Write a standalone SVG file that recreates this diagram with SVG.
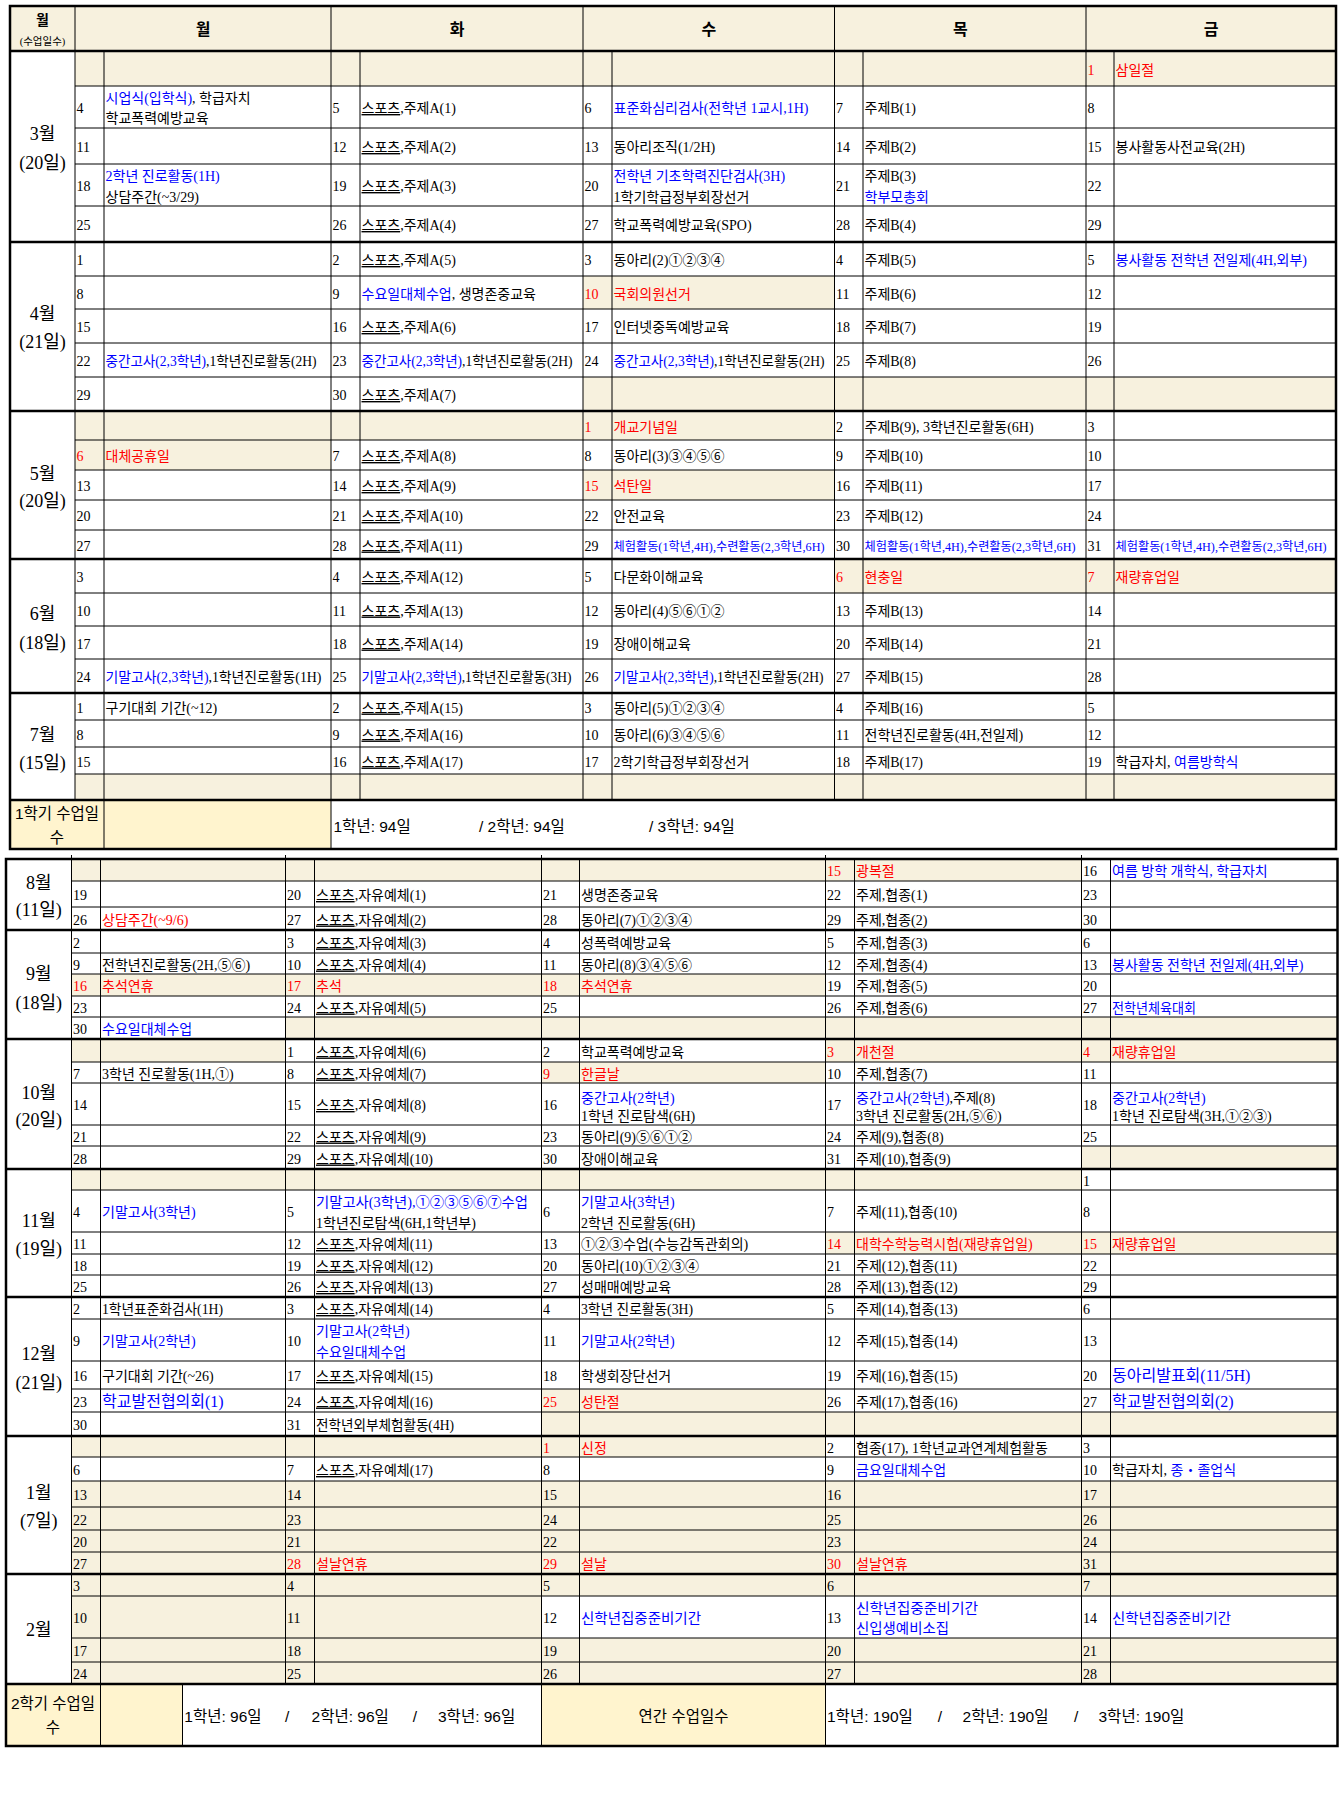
<svg xmlns="http://www.w3.org/2000/svg" width="1344" height="1798" viewBox="0 0 1344 1798">
<style>
text{font-family:'Liberation Serif','Noto Sans CJK KR',serif;font-size:14px;fill:#000}
.r{fill:#f00}
.b{fill:#00f}
.u{text-decoration:underline}
.m{font-size:18px;text-anchor:middle}
.h{font-family:'Liberation Sans','Noto Sans CJK KR',sans-serif;font-size:16px;font-weight:bold;text-anchor:middle}
.s{font-family:'Liberation Sans','Noto Sans CJK KR',sans-serif;font-size:15.5px}
.c{text-anchor:middle}
.g16{font-size:16px}
.sm{font-size:12px}
.bg{fill:#f7f1de}
.y{fill:#fff4ce}
.ln{stroke:#000;stroke-width:1;fill:none}
.tk{stroke:#000;stroke-width:2.5;fill:none}
</style>
<rect width="1344" height="1798" fill="#fff"/>

<!-- ============ TOP TABLE (1st semester) ============ -->
<g id="top-fills">
<rect class="bg" x="10" y="6" width="1326" height="45"/>
<rect class="bg" x="75" y="51" width="1261" height="35"/>
<rect class="bg" x="583" y="276" width="251.5" height="33"/>
<rect class="bg" x="583" y="377" width="753" height="34"/>
<rect class="bg" x="75" y="411" width="759.5" height="29"/>
<rect class="bg" x="75" y="440" width="256" height="30"/>
<rect class="bg" x="583" y="470" width="251.5" height="30"/>
<rect class="bg" x="834.5" y="559" width="501.5" height="34"/>
<rect class="bg" x="75" y="774" width="1261" height="26"/>
<rect class="y" x="10" y="800" width="321" height="49"/>
</g>
<g id="top-grid">
<path class="ln" d="M75 86H1336M75 128H1336M75 164H1336M75 206H1336M75 276H1336M75 309H1336M75 343H1336M75 377H1336M75 440H1336M75 470H1336M75 500H1336M75 530H1336M75 593H1336M75 626H1336M75 659H1336M75 720H1336M75 747H1336M75 774H1336"/>
<path class="ln" d="M75 6V800M104 51V849M331 6V849M360 51V800M583 6V800M612 51V800M834.5 6V800M863 51V800M1086 6V800M1114 51V800"/>
<path class="tk" d="M10 51H1336M10 242H1336M10 411H1336M10 559H1336M10 693H1336M10 800H1336"/>
<rect class="tk" x="10" y="6" width="1326" height="843"/>
</g>
<g id="top-header">
<text x="42.5" y="25" style="font-size:14px;font-weight:bold;text-anchor:middle">월</text>
<text x="42.5" y="44.5" style="font-size:10.5px;text-anchor:middle">(수업일수)</text>
<text class="h" x="203" y="34.5">월</text>
<text class="h" x="457" y="34.5">화</text>
<text class="h" x="708.75" y="34.5">수</text>
<text class="h" x="960.25" y="34.5">목</text>
<text class="h" x="1211" y="34.5">금</text>
</g>

<g id="month-03">
<text class="m" x="42.5" y="140">3월</text>
<text class="m" x="42.5" y="168.5">(20일)</text>
<text class="r" x="1087.5" y="74.5">1</text><text class="r" x="1115.5" y="74.5">삼일절</text>
<text x="76.5" y="113">4</text>
<text x="105.5" y="102.5"><tspan class="b">시업식(입학식)</tspan>, 학급자치</text>
<text x="105.5" y="123">학교폭력예방교육</text>
<text x="332.5" y="113">5</text><text x="361.5" y="113"><tspan class="u">스포츠</tspan>,주제A(1)</text>
<text x="584.5" y="113">6</text><text class="b" x="613.5" y="113">표준화심리검사(전학년 1교시,1H)</text>
<text x="836" y="113">7</text><text x="864.5" y="113">주제B(1)</text>
<text x="1087.5" y="113">8</text>
<text x="76.5" y="152">11</text>
<text x="332.5" y="152">12</text><text x="361.5" y="152"><tspan class="u">스포츠</tspan>,주제A(2)</text>
<text x="584.5" y="152">13</text><text x="613.5" y="152">동아리조직(1/2H)</text>
<text x="836" y="152">14</text><text x="864.5" y="152">주제B(2)</text>
<text x="1087.5" y="152">15</text><text x="1115.5" y="152">봉사활동사전교육(2H)</text>
<text x="76.5" y="191">18</text>
<text class="b" x="105.5" y="180.5">2학년 진로활동(1H)</text>
<text x="105.5" y="201.5">상담주간(~3/29)</text>
<text x="332.5" y="191">19</text><text x="361.5" y="191"><tspan class="u">스포츠</tspan>,주제A(3)</text>
<text x="584.5" y="191">20</text>
<text class="b" x="613.5" y="180.5">전학년 기초학력진단검사(3H)</text>
<text x="613.5" y="201.5">1학기학급정부회장선거</text>
<text x="836" y="191">21</text>
<text x="864.5" y="180.5">주제B(3)</text>
<text class="b" x="864.5" y="201.5">학부모총회</text>
<text x="1087.5" y="191">22</text>
<text x="76.5" y="230">25</text>
<text x="332.5" y="230">26</text><text x="361.5" y="230"><tspan class="u">스포츠</tspan>,주제A(4)</text>
<text x="584.5" y="230">27</text><text x="613.5" y="230">학교폭력예방교육(SPO)</text>
<text x="836" y="230">28</text><text x="864.5" y="230">주제B(4)</text>
<text x="1087.5" y="230">29</text>
</g>

<g id="month-04">
<text class="m" x="42.5" y="320">4월</text>
<text class="m" x="42.5" y="348">(21일)</text>
<text x="76.5" y="265">1</text>
<text x="332.5" y="265">2</text><text x="361.5" y="265"><tspan class="u">스포츠</tspan>,주제A(5)</text>
<text x="584.5" y="265">3</text><text x="613.5" y="265">동아리(2)①②③④</text>
<text x="836" y="265">4</text><text x="864.5" y="265">주제B(5)</text>
<text x="1087.5" y="265">5</text><text class="b" x="1115.5" y="265">봉사활동 전학년 전일제(4H,외부)</text>
<text x="76.5" y="298.5">8</text>
<text x="332.5" y="298.5">9</text><text x="361.5" y="298.5"><tspan class="b">수요일대체수업</tspan>, 생명존중교육</text>
<text class="r" x="584.5" y="298.5">10</text><text class="r" x="613.5" y="298.5">국회의원선거</text>
<text x="836" y="298.5">11</text><text x="864.5" y="298.5">주제B(6)</text>
<text x="1087.5" y="298.5">12</text>
<text x="76.5" y="332">15</text>
<text x="332.5" y="332">16</text><text x="361.5" y="332"><tspan class="u">스포츠</tspan>,주제A(6)</text>
<text x="584.5" y="332">17</text><text x="613.5" y="332">인터넷중독예방교육</text>
<text x="836" y="332">18</text><text x="864.5" y="332">주제B(7)</text>
<text x="1087.5" y="332">19</text>
<text x="76.5" y="366">22</text><text x="105.5" y="366" textLength="211" lengthAdjust="spacingAndGlyphs"><tspan class="b">중간고사(2,3학년)</tspan>,1학년진로활동(2H)</text>
<text x="332.5" y="366">23</text><text x="361.5" y="366" textLength="211" lengthAdjust="spacingAndGlyphs"><tspan class="b">중간고사(2,3학년)</tspan>,1학년진로활동(2H)</text>
<text x="584.5" y="366">24</text><text x="613.5" y="366" textLength="211" lengthAdjust="spacingAndGlyphs"><tspan class="b">중간고사(2,3학년)</tspan>,1학년진로활동(2H)</text>
<text x="836" y="366">25</text><text x="864.5" y="366">주제B(8)</text>
<text x="1087.5" y="366">26</text>
<text x="76.5" y="400">29</text>
<text x="332.5" y="400">30</text><text x="361.5" y="400"><tspan class="u">스포츠</tspan>,주제A(7)</text>
</g>

<g id="month-05">
<text class="m" x="42.5" y="479.5">5월</text>
<text class="m" x="42.5" y="507">(20일)</text>
<text class="r" x="584.5" y="431.5">1</text><text class="r" x="613.5" y="431.5">개교기념일</text>
<text x="836" y="431.5">2</text><text x="864.5" y="431.5">주제B(9), 3학년진로활동(6H)</text>
<text x="1087.5" y="431.5">3</text>
<text class="r" x="76.5" y="461">6</text><text class="r" x="105.5" y="461">대체공휴일</text>
<text x="332.5" y="461">7</text><text x="361.5" y="461"><tspan class="u">스포츠</tspan>,주제A(8)</text>
<text x="584.5" y="461">8</text><text x="613.5" y="461">동아리(3)③④⑤⑥</text>
<text x="836" y="461">9</text><text x="864.5" y="461">주제B(10)</text>
<text x="1087.5" y="461">10</text>
<text x="76.5" y="491">13</text>
<text x="332.5" y="491">14</text><text x="361.5" y="491"><tspan class="u">스포츠</tspan>,주제A(9)</text>
<text class="r" x="584.5" y="491">15</text><text class="r" x="613.5" y="491">석탄일</text>
<text x="836" y="491">16</text><text x="864.5" y="491">주제B(11)</text>
<text x="1087.5" y="491">17</text>
<text x="76.5" y="521">20</text>
<text x="332.5" y="521">21</text><text x="361.5" y="521"><tspan class="u">스포츠</tspan>,주제A(10)</text>
<text x="584.5" y="521">22</text><text x="613.5" y="521">안전교육</text>
<text x="836" y="521">23</text><text x="864.5" y="521">주제B(12)</text>
<text x="1087.5" y="521">24</text>
<text x="76.5" y="550.5">27</text>
<text x="332.5" y="550.5">28</text><text x="361.5" y="550.5"><tspan class="u">스포츠</tspan>,주제A(11)</text>
<text x="584.5" y="550.5">29</text><text class="b sm" x="613.5" y="550.5" textLength="211" lengthAdjust="spacingAndGlyphs">체험활동(1학년,4H),수련활동(2,3학년,6H)</text>
<text x="836" y="550.5">30</text><text class="b sm" x="864.5" y="550.5" textLength="211" lengthAdjust="spacingAndGlyphs">체험활동(1학년,4H),수련활동(2,3학년,6H)</text>
<text x="1087.5" y="550.5">31</text><text class="b sm" x="1115.5" y="550.5" textLength="211" lengthAdjust="spacingAndGlyphs">체험활동(1학년,4H),수련활동(2,3학년,6H)</text>
</g>

<g id="month-06">
<text class="m" x="42.5" y="620">6월</text>
<text class="m" x="42.5" y="648.5">(18일)</text>
<text x="76.5" y="582">3</text>
<text x="332.5" y="582">4</text><text x="361.5" y="582"><tspan class="u">스포츠</tspan>,주제A(12)</text>
<text x="584.5" y="582">5</text><text x="613.5" y="582">다문화이해교육</text>
<text class="r" x="836" y="582">6</text><text class="r" x="864.5" y="582">현충일</text>
<text class="r" x="1087.5" y="582">7</text><text class="r" x="1115.5" y="582">재량휴업일</text>
<text x="76.5" y="615.5">10</text>
<text x="332.5" y="615.5">11</text><text x="361.5" y="615.5"><tspan class="u">스포츠</tspan>,주제A(13)</text>
<text x="584.5" y="615.5">12</text><text x="613.5" y="615.5">동아리(4)⑤⑥①②</text>
<text x="836" y="615.5">13</text><text x="864.5" y="615.5">주제B(13)</text>
<text x="1087.5" y="615.5">14</text>
<text x="76.5" y="648.5">17</text>
<text x="332.5" y="648.5">18</text><text x="361.5" y="648.5"><tspan class="u">스포츠</tspan>,주제A(14)</text>
<text x="584.5" y="648.5">19</text><text x="613.5" y="648.5">장애이해교육</text>
<text x="836" y="648.5">20</text><text x="864.5" y="648.5">주제B(14)</text>
<text x="1087.5" y="648.5">21</text>
<text x="76.5" y="682">24</text><text x="105.5" y="682" textLength="216" lengthAdjust="spacingAndGlyphs"><tspan class="b">기말고사(2,3학년)</tspan>,1학년진로활동(1H)</text>
<text x="332.5" y="682">25</text><text x="361.5" y="682" textLength="210" lengthAdjust="spacingAndGlyphs"><tspan class="b">기말고사(2,3학년)</tspan>,1학년진로활동(3H)</text>
<text x="584.5" y="682">26</text><text x="613.5" y="682" textLength="210" lengthAdjust="spacingAndGlyphs"><tspan class="b">기말고사(2,3학년)</tspan>,1학년진로활동(2H)</text>
<text x="836" y="682">27</text><text x="864.5" y="682">주제B(15)</text>
<text x="1087.5" y="682">28</text>
</g>

<g id="month-07">
<text class="m" x="42.5" y="741">7월</text>
<text class="m" x="42.5" y="768.5">(15일)</text>
<text x="76.5" y="712.5">1</text><text x="105.5" y="712.5">구기대회 기간(~12)</text>
<text x="332.5" y="712.5">2</text><text x="361.5" y="712.5"><tspan class="u">스포츠</tspan>,주제A(15)</text>
<text x="584.5" y="712.5">3</text><text x="613.5" y="712.5">동아리(5)①②③④</text>
<text x="836" y="712.5">4</text><text x="864.5" y="712.5">주제B(16)</text>
<text x="1087.5" y="712.5">5</text>
<text x="76.5" y="739.5">8</text>
<text x="332.5" y="739.5">9</text><text x="361.5" y="739.5"><tspan class="u">스포츠</tspan>,주제A(16)</text>
<text x="584.5" y="739.5">10</text><text x="613.5" y="739.5">동아리(6)③④⑤⑥</text>
<text x="836" y="739.5">11</text><text x="864.5" y="739.5">전학년진로활동(4H,전일제)</text>
<text x="1087.5" y="739.5">12</text>
<text x="76.5" y="766.5">15</text>
<text x="332.5" y="766.5">16</text><text x="361.5" y="766.5"><tspan class="u">스포츠</tspan>,주제A(17)</text>
<text x="584.5" y="766.5">17</text><text x="613.5" y="766.5">2학기학급정부회장선거</text>
<text x="836" y="766.5">18</text><text x="864.5" y="766.5">주제B(17)</text>
<text x="1087.5" y="766.5">19</text><text x="1115.5" y="766.5">학급자치, <tspan class="b">여름방학식</tspan></text>
</g>

<g id="summary-1">
<text class="s c" x="57" y="819">1학기 수업일</text>
<text class="s c" x="57" y="842.5">수</text>
<text class="s" x="333.5" y="832">1학년: 94일</text>
<text class="s" x="479" y="832">/ 2학년: 94일</text>
<text class="s" x="649" y="832">/ 3학년: 94일</text>
</g>

<!-- ============ BOTTOM TABLE (2nd semester) ============ -->
<g id="bottom-fills">
<rect class="bg" x="71.5" y="859" width="1010" height="22"/>
<rect class="bg" x="71.5" y="974" width="754" height="22"/>
<rect class="bg" x="285.5" y="1017" width="1052" height="22"/>
<rect class="bg" x="71.5" y="1039" width="214" height="23"/>
<rect class="bg" x="825.5" y="1039" width="512" height="23"/>
<rect class="bg" x="541.5" y="1062" width="284" height="21"/>
<rect class="bg" x="1081.5" y="1146" width="256" height="23"/>
<rect class="bg" x="71.5" y="1169" width="1010" height="21"/>
<rect class="bg" x="825.5" y="1232" width="512" height="22"/>
<rect class="bg" x="541.5" y="1389" width="284" height="23"/>
<rect class="bg" x="541.5" y="1412" width="796" height="24"/>
<rect class="bg" x="71.5" y="1436" width="754" height="21"/>
<rect class="bg" x="71.5" y="1481" width="1266" height="115"/>
<rect class="bg" x="71.5" y="1596" width="470" height="42"/>
<rect class="bg" x="71.5" y="1638" width="1266" height="46"/>
<rect class="y" x="6" y="1684" width="176.5" height="62"/>
<rect class="y" x="541.5" y="1684" width="284" height="62"/>
</g>
<g id="bottom-grid">
<path class="ln" d="M71.5 881H1337.5M71.5 907H1337.5M71.5 953H1337.5M71.5 974H1337.5M71.5 996H1337.5M71.5 1017H1337.5M71.5 1062H1337.5M71.5 1083H1337.5M71.5 1125H1337.5M71.5 1146H1337.5M71.5 1190H1337.5M71.5 1232H1337.5M71.5 1254H1337.5M71.5 1275H1337.5M71.5 1319H1337.5M71.5 1361H1337.5M71.5 1389H1337.5M71.5 1412H1337.5M71.5 1457H1337.5M71.5 1481H1337.5M71.5 1507H1337.5M71.5 1530H1337.5M71.5 1552H1337.5M71.5 1596H1337.5M71.5 1638H1337.5M71.5 1662H1337.5"/>
<path class="ln" d="M71.5 855V1684M100.5 859V1746M182.5 1684V1746M285.5 855V1684M314.5 859V1684M541.5 855V1746M579.5 859V1684M825.5 855V1746M854.5 859V1684M1081.5 855V1684M1110.5 859V1684"/>
<path class="tk" d="M6 930H1337.5M6 1039H1337.5M6 1169H1337.5M6 1297H1337.5M6 1436H1337.5M6 1574H1337.5M6 1684H1337.5"/>
<rect class="tk" x="6" y="859" width="1331.5" height="887"/>
</g>

<g id="month-08">
<text class="m" x="38.8" y="888.5">8월</text>
<text class="m" x="38.8" y="916">(11일)</text>
<text class="r" x="827" y="876">15</text><text class="r" x="856" y="876">광복절</text>
<text x="1083" y="876">16</text><text class="b" x="1112" y="876">여름 방학 개학식, 학급자치</text>
<text x="73" y="900">19</text>
<text x="287" y="900">20</text><text x="316" y="900"><tspan class="u">스포츠</tspan>,자유예체(1)</text>
<text x="543" y="900">21</text><text x="581" y="900">생명존중교육</text>
<text x="827" y="900">22</text><text x="856" y="900">주제,협종(1)</text>
<text x="1083" y="900">23</text>
<text x="73" y="924.5">26</text><text class="r" x="102" y="924.5">상담주간(~9/6)</text>
<text x="287" y="924.5">27</text><text x="316" y="924.5"><tspan class="u">스포츠</tspan>,자유예체(2)</text>
<text x="543" y="924.5">28</text><text x="581" y="924.5">동아리(7)①②③④</text>
<text x="827" y="924.5">29</text><text x="856" y="924.5">주제,협종(2)</text>
<text x="1083" y="924.5">30</text>
</g>

<g id="month-09">
<text class="m" x="38.8" y="979.5">9월</text>
<text class="m" x="38.8" y="1008.5">(18일)</text>
<text x="73" y="947.5">2</text>
<text x="287" y="947.5">3</text><text x="316" y="947.5"><tspan class="u">스포츠</tspan>,자유예체(3)</text>
<text x="543" y="947.5">4</text><text x="581" y="947.5">성폭력예방교육</text>
<text x="827" y="947.5">5</text><text x="856" y="947.5">주제,협종(3)</text>
<text x="1083" y="947.5">6</text>
<text x="73" y="969.5">9</text><text x="102" y="969.5">전학년진로활동(2H,⑤⑥)</text>
<text x="287" y="969.5">10</text><text x="316" y="969.5"><tspan class="u">스포츠</tspan>,자유예체(4)</text>
<text x="543" y="969.5">11</text><text x="581" y="969.5">동아리(8)③④⑤⑥</text>
<text x="827" y="969.5">12</text><text x="856" y="969.5">주제,협종(4)</text>
<text x="1083" y="969.5">13</text><text class="b" x="1112" y="969.5">봉사활동 전학년 전일제(4H,외부)</text>
<text class="r" x="73" y="991">16</text><text class="r" x="102" y="991">추석연휴</text>
<text class="r" x="287" y="991">17</text><text class="r" x="316" y="991">추석</text>
<text class="r" x="543" y="991">18</text><text class="r" x="581" y="991">추석연휴</text>
<text x="827" y="991">19</text><text x="856" y="991">주제,협종(5)</text>
<text x="1083" y="991">20</text>
<text x="73" y="1012.5">23</text>
<text x="287" y="1012.5">24</text><text x="316" y="1012.5"><tspan class="u">스포츠</tspan>,자유예체(5)</text>
<text x="543" y="1012.5">25</text>
<text x="827" y="1012.5">26</text><text x="856" y="1012.5">주제,협종(6)</text>
<text x="1083" y="1012.5">27</text><text class="b" x="1112" y="1012.5" textLength="84" lengthAdjust="spacingAndGlyphs">전학년체육대회</text>
<text x="73" y="1034">30</text><text class="b" x="102" y="1034">수요일대체수업</text>
</g>

<g id="month-10">
<text class="m" x="38.8" y="1098.5">10월</text>
<text class="m" x="38.8" y="1126">(20일)</text>
<text x="287" y="1056.5">1</text><text x="316" y="1056.5"><tspan class="u">스포츠</tspan>,자유예체(6)</text>
<text x="543" y="1056.5">2</text><text x="581" y="1056.5">학교폭력예방교육</text>
<text class="r" x="827" y="1056.5">3</text><text class="r" x="856" y="1056.5">개천절</text>
<text class="r" x="1083" y="1056.5">4</text><text class="r" x="1112" y="1056.5">재량휴업일</text>
<text x="73" y="1078.5">7</text><text x="102" y="1078.5">3학년 진로활동(1H,①)</text>
<text x="287" y="1078.5">8</text><text x="316" y="1078.5"><tspan class="u">스포츠</tspan>,자유예체(7)</text>
<text class="r" x="543" y="1078.5">9</text><text class="r" x="581" y="1078.5">한글날</text>
<text x="827" y="1078.5">10</text><text x="856" y="1078.5">주제,협종(7)</text>
<text x="1083" y="1078.5">11</text>
<text x="73" y="1110">14</text>
<text x="287" y="1110">15</text><text x="316" y="1110"><tspan class="u">스포츠</tspan>,자유예체(8)</text>
<text x="543" y="1110">16</text>
<text class="b" x="581" y="1103">중간고사(2학년)</text>
<text x="581" y="1120.5">1학년 진로탐색(6H)</text>
<text x="827" y="1110">17</text>
<text x="856" y="1103"><tspan class="b">중간고사(2학년)</tspan>,주제(8)</text>
<text x="856" y="1120.5">3학년 진로활동(2H,⑤⑥)</text>
<text x="1083" y="1110">18</text>
<text class="b" x="1112" y="1103">중간고사(2학년)</text>
<text x="1112" y="1120.5">1학년 진로탐색(3H,①②③)</text>
<text x="73" y="1141.5">21</text>
<text x="287" y="1141.5">22</text><text x="316" y="1141.5"><tspan class="u">스포츠</tspan>,자유예체(9)</text>
<text x="543" y="1141.5">23</text><text x="581" y="1141.5">동아리(9)⑤⑥①②</text>
<text x="827" y="1141.5">24</text><text x="856" y="1141.5">주제(9),협종(8)</text>
<text x="1083" y="1141.5">25</text>
<text x="73" y="1163.5">28</text>
<text x="287" y="1163.5">29</text><text x="316" y="1163.5"><tspan class="u">스포츠</tspan>,자유예체(10)</text>
<text x="543" y="1163.5">30</text><text x="581" y="1163.5">장애이해교육</text>
<text x="827" y="1163.5">31</text><text x="856" y="1163.5">주제(10),협종(9)</text>
</g>

<g id="month-11">
<text class="m" x="38.8" y="1227">11월</text>
<text class="m" x="38.8" y="1255">(19일)</text>
<text x="1083" y="1185.5">1</text>
<text x="73" y="1217">4</text><text class="b" x="102" y="1217">기말고사(3학년)</text>
<text x="287" y="1217">5</text>
<text class="b" x="316" y="1206.5" textLength="212" lengthAdjust="spacingAndGlyphs">기말고사(3학년),①②③⑤⑥⑦수업</text>
<text x="316" y="1228">1학년진로탐색(6H,1학년부)</text>
<text x="543" y="1217">6</text>
<text class="b" x="581" y="1206.5">기말고사(3학년)</text>
<text x="581" y="1228">2학년 진로활동(6H)</text>
<text x="827" y="1217">7</text><text x="856" y="1217">주제(11),협종(10)</text>
<text x="1083" y="1217">8</text>
<text x="73" y="1249">11</text>
<text x="287" y="1249">12</text><text x="316" y="1249"><tspan class="u">스포츠</tspan>,자유예체(11)</text>
<text x="543" y="1249">13</text><text x="581" y="1249">①②③수업(수능감독관회의)</text>
<text class="r" x="827" y="1249">14</text><text class="r" x="856" y="1249">대학수학능력시험(재량휴업일)</text>
<text class="r" x="1083" y="1249">15</text><text class="r" x="1112" y="1249">재량휴업일</text>
<text x="73" y="1270.5">18</text>
<text x="287" y="1270.5">19</text><text x="316" y="1270.5"><tspan class="u">스포츠</tspan>,자유예체(12)</text>
<text x="543" y="1270.5">20</text><text x="581" y="1270.5">동아리(10)①②③④</text>
<text x="827" y="1270.5">21</text><text x="856" y="1270.5">주제(12),협종(11)</text>
<text x="1083" y="1270.5">22</text>
<text x="73" y="1292">25</text>
<text x="287" y="1292">26</text><text x="316" y="1292"><tspan class="u">스포츠</tspan>,자유예체(13)</text>
<text x="543" y="1292">27</text><text x="581" y="1292">성매매예방교육</text>
<text x="827" y="1292">28</text><text x="856" y="1292">주제(13),협종(12)</text>
<text x="1083" y="1292">29</text>
</g>

<g id="month-12">
<text class="m" x="38.8" y="1360">12월</text>
<text class="m" x="38.8" y="1388.5">(21일)</text>
<text x="73" y="1314">2</text><text x="102" y="1314" textLength="121" lengthAdjust="spacingAndGlyphs">1학년표준화검사(1H)</text>
<text x="287" y="1314">3</text><text x="316" y="1314"><tspan class="u">스포츠</tspan>,자유예체(14)</text>
<text x="543" y="1314">4</text><text x="581" y="1314" textLength="112" lengthAdjust="spacingAndGlyphs">3학년 진로활동(3H)</text>
<text x="827" y="1314">5</text><text x="856" y="1314">주제(14),협종(13)</text>
<text x="1083" y="1314">6</text>
<text x="73" y="1346">9</text><text class="b" x="102" y="1346">기말고사(2학년)</text>
<text x="287" y="1346">10</text>
<text class="b" x="316" y="1336">기말고사(2학년)</text>
<text class="b" x="316" y="1357">수요일대체수업</text>
<text x="543" y="1346">11</text><text class="b" x="581" y="1346">기말고사(2학년)</text>
<text x="827" y="1346">12</text><text x="856" y="1346">주제(15),협종(14)</text>
<text x="1083" y="1346">13</text>
<text x="73" y="1381">16</text><text x="102" y="1381">구기대회 기간(~26)</text>
<text x="287" y="1381">17</text><text x="316" y="1381"><tspan class="u">스포츠</tspan>,자유예체(15)</text>
<text x="543" y="1381">18</text><text x="581" y="1381">학생회장단선거</text>
<text x="827" y="1381">19</text><text x="856" y="1381">주제(16),협종(15)</text>
<text x="1083" y="1381">20</text><text class="b g16" x="1112" y="1381">동아리발표회(11/5H)</text>
<text x="73" y="1406.5">23</text><text class="b g16" x="102" y="1406.5">학교발전협의회(1)</text>
<text x="287" y="1406.5">24</text><text x="316" y="1406.5"><tspan class="u">스포츠</tspan>,자유예체(16)</text>
<text class="r" x="543" y="1406.5">25</text><text class="r" x="581" y="1406.5">성탄절</text>
<text x="827" y="1406.5">26</text><text x="856" y="1406.5">주제(17),협종(16)</text>
<text x="1083" y="1406.5">27</text><text class="b g16" x="1112" y="1406.5">학교발전협의회(2)</text>
<text x="73" y="1430">30</text>
<text x="287" y="1430">31</text><text x="316" y="1430" textLength="138" lengthAdjust="spacingAndGlyphs">전학년외부체험활동(4H)</text>
</g>

<g id="month-01">
<text class="m" x="38.8" y="1498.5">1월</text>
<text class="m" x="38.8" y="1527">(7일)</text>
<text class="r" x="543" y="1452.5">1</text><text class="r" x="581" y="1452.5">신정</text>
<text x="827" y="1452.5">2</text><text x="856" y="1452.5">협종(17), 1학년교과연계체험활동</text>
<text x="1083" y="1452.5">3</text>
<text x="73" y="1475">6</text>
<text x="287" y="1475">7</text><text x="316" y="1475"><tspan class="u">스포츠</tspan>,자유예체(17)</text>
<text x="543" y="1475">8</text>
<text x="827" y="1475">9</text><text class="b" x="856" y="1475">금요일대체수업</text>
<text x="1083" y="1475">10</text><text x="1112" y="1475">학급자치, <tspan class="b">종・졸업식</tspan></text>
<text x="73" y="1500">13</text><text x="287" y="1500">14</text><text x="543" y="1500">15</text><text x="827" y="1500">16</text><text x="1083" y="1500">17</text>
<text x="73" y="1524.5">22</text><text x="287" y="1524.5">23</text><text x="543" y="1524.5">24</text><text x="827" y="1524.5">25</text><text x="1083" y="1524.5">26</text>
<text x="73" y="1547">20</text><text x="287" y="1547">21</text><text x="543" y="1547">22</text><text x="827" y="1547">23</text><text x="1083" y="1547">24</text>
<text x="73" y="1569">27</text>
<text class="r" x="287" y="1569">28</text><text class="r" x="316" y="1569">설날연휴</text>
<text class="r" x="543" y="1569">29</text><text class="r" x="581" y="1569">설날</text>
<text class="r" x="827" y="1569">30</text><text class="r" x="856" y="1569">설날연휴</text>
<text x="1083" y="1569">31</text>
</g>

<g id="month-02">
<text class="m" x="38.8" y="1636">2월</text>
<text x="73" y="1591">3</text><text x="287" y="1591">4</text><text x="543" y="1591">5</text><text x="827" y="1591">6</text><text x="1083" y="1591">7</text>
<text x="73" y="1623">10</text>
<text x="287" y="1623">11</text>
<text x="543" y="1623">12</text><text class="b" x="581" y="1623" textLength="120" lengthAdjust="spacingAndGlyphs">신학년집중준비기간</text>
<text x="827" y="1623">13</text>
<text class="b" x="856" y="1613" textLength="122" lengthAdjust="spacingAndGlyphs">신학년집중준비기간</text>
<text class="b" x="856" y="1633" textLength="93" lengthAdjust="spacingAndGlyphs">신입생예비소집</text>
<text x="1083" y="1623">14</text><text class="b" x="1112" y="1623" textLength="119" lengthAdjust="spacingAndGlyphs">신학년집중준비기간</text>
<text x="73" y="1656">17</text><text x="287" y="1656">18</text><text x="543" y="1656">19</text><text x="827" y="1656">20</text><text x="1083" y="1656">21</text>
<text x="73" y="1679">24</text><text x="287" y="1679">25</text><text x="543" y="1679">26</text><text x="827" y="1679">27</text><text x="1083" y="1679">28</text>
</g>

<g id="summary-2">
<text class="s c" x="53" y="1709">2학기 수업일</text>
<text class="s c" x="53" y="1733">수</text>
<text class="s" x="184.3" y="1722">1학년: 96일</text>
<text class="s" x="285" y="1722">/</text>
<text class="s" x="311.6" y="1722">2학년: 96일</text>
<text class="s" x="412.8" y="1722">/</text>
<text class="s" x="438" y="1722">3학년: 96일</text>
<text class="s c" x="683.5" y="1722">연간 수업일수</text>
<text class="s" x="827" y="1722">1학년: 190일</text>
<text class="s" x="937.7" y="1722">/</text>
<text class="s" x="962.6" y="1722">2학년: 190일</text>
<text class="s" x="1074" y="1722">/</text>
<text class="s" x="1098.5" y="1722">3학년: 190일</text>
</g>
</svg>
